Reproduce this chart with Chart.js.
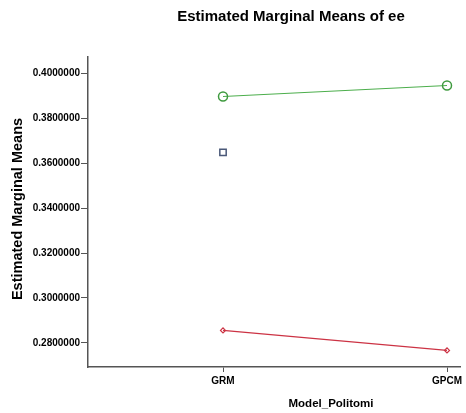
<!DOCTYPE html>
<html>
<head>
<meta charset="utf-8">
<script src="https://cdn.jsdelivr.net/npm/chart.js@4.4.1/dist/chart.umd.min.js"></script>
<style>
    html, body { margin: 0; padding: 0; background: #fff; }
    #wrap { width: 466px; height: 413px; position: relative; }
</style>
</head>
<body>
<div id="wrap"><canvas id="emmChart" width="466" height="413"></canvas></div>
<script>
// categories on the x axis
const models = ['GRM', 'GPCM'];
// series values
const greenSeries = [0.3898, 0.3947];
const blueSeries = [0.3649, null];
const redSeries = [0.2855, 0.2766];
// tick labels on the y axis
const yTicks = [0.28, 0.30, 0.32, 0.34, 0.36, 0.38, 0.40];

const axisColor = '#555555';
const fontFam = '"Liberation Sans", Arial, sans-serif';

// titles drawn at their own spots (SPSS-like layout)
const titlesPlugin = {
    id: 'titles',
    afterDraw(chart) {
        const ctx = chart.ctx;
        const xs = chart.scales.x;
        ctx.save();
        ctx.fillStyle = '#000';
        ctx.textAlign = 'center';
        ctx.textBaseline = 'middle';
        ctx.font = 'bold 15px ' + fontFam;
        ctx.fillText('Estimated Marginal Means of ee', 291, 17);

        ctx.font = 'bold 11.5px ' + fontFam;
        const midX = (xs.getPixelForValue(0) + xs.getPixelForValue(1)) / 2;
        ctx.fillText('Model_Politomi', midX - 4, 404);

        ctx.translate(18, 209);
        ctx.rotate(-Math.PI / 2);
        ctx.font = 'bold 14.5px ' + fontFam;
        ctx.fillText('Estimated Marginal Means', 0, 0);
        ctx.restore();
    }
};

// skip missing cells instead of passing null objects
const toPoints = (vals) => vals
    .map((v, i) => ({ x: i, y: v }))
    .filter((p) => p.y !== null);

new Chart(document.getElementById('emmChart'), {
    type: 'line',
    data: {
        datasets: [
            {
                label: 'green',
                data: toPoints(greenSeries),
                borderColor: '#4cae4c',
                borderWidth: 1.2,
                pointStyle: 'circle',
                pointRadius: 4.5,
                pointBorderWidth: 1.5,
                pointBorderColor: '#3f9a3f',
                pointBackgroundColor: 'rgba(255,255,255,0)',
                fill: false,
            },
            {
                label: 'blue',
                data: toPoints(blueSeries),
                borderColor: '#4a5878',
                showLine: false,
                pointStyle: 'rect',
                pointRadius: 4.5,
                pointBorderWidth: 1.5,
                pointBackgroundColor: 'rgba(255,255,255,0)',
            },
            {
                label: 'red',
                data: toPoints(redSeries),
                borderColor: '#cc3344',
                borderWidth: 1.2,
                pointStyle: 'rectRot',
                pointRadius: 2.5,
                pointBorderWidth: 1.2,
                pointBackgroundColor: 'rgba(255,255,255,0)',
                fill: false,
            },
        ],
    },
    options: {
        responsive: false,
        animation: false,
        layout: { padding: { top: 57, right: 0, left: 0, bottom: 0 } },
        plugins: {
            legend: { display: false },
            title: { display: false },
            tooltip: { enabled: false },
        },
        scales: {
            x: {
                type: 'linear',
                min: -0.6027,
                max: 1.058,
                afterBuildTicks(scale) {
                    scale.ticks = models.map((m, i) => ({ value: i }));
                },
                afterFit(scale) {
                    scale.height = 46;
                },
                ticks: {
                    callback: (v) => models[v],
                    color: '#000',
                    font: { family: fontFam, size: 10, weight: 'bold' },
                    padding: 3,
                    maxRotation: 0,
                },
                grid: { drawOnChartArea: false, drawTicks: true, tickLength: 5, color: axisColor },
                border: { display: true, color: axisColor, width: 1.5 },
            },
            y: {
                type: 'linear',
                min: 0.2692,
                max: 0.4074,
                afterBuildTicks(scale) {
                    scale.ticks = yTicks.map((v) => ({ value: v }));
                },
                afterFit(scale) {
                    scale.width = 88;
                },
                ticks: {
                    callback: (v) => v.toFixed(7),
                    color: '#000',
                    font: { family: fontFam, size: 10, weight: 'bold' },
                    padding: 1,
                },
                grid: { drawOnChartArea: false, drawTicks: true, tickLength: 7, color: axisColor },
                border: { display: true, color: axisColor, width: 1.5 },
            },
        },
    },
    plugins: [titlesPlugin],
});
</script>
</body>
</html>
